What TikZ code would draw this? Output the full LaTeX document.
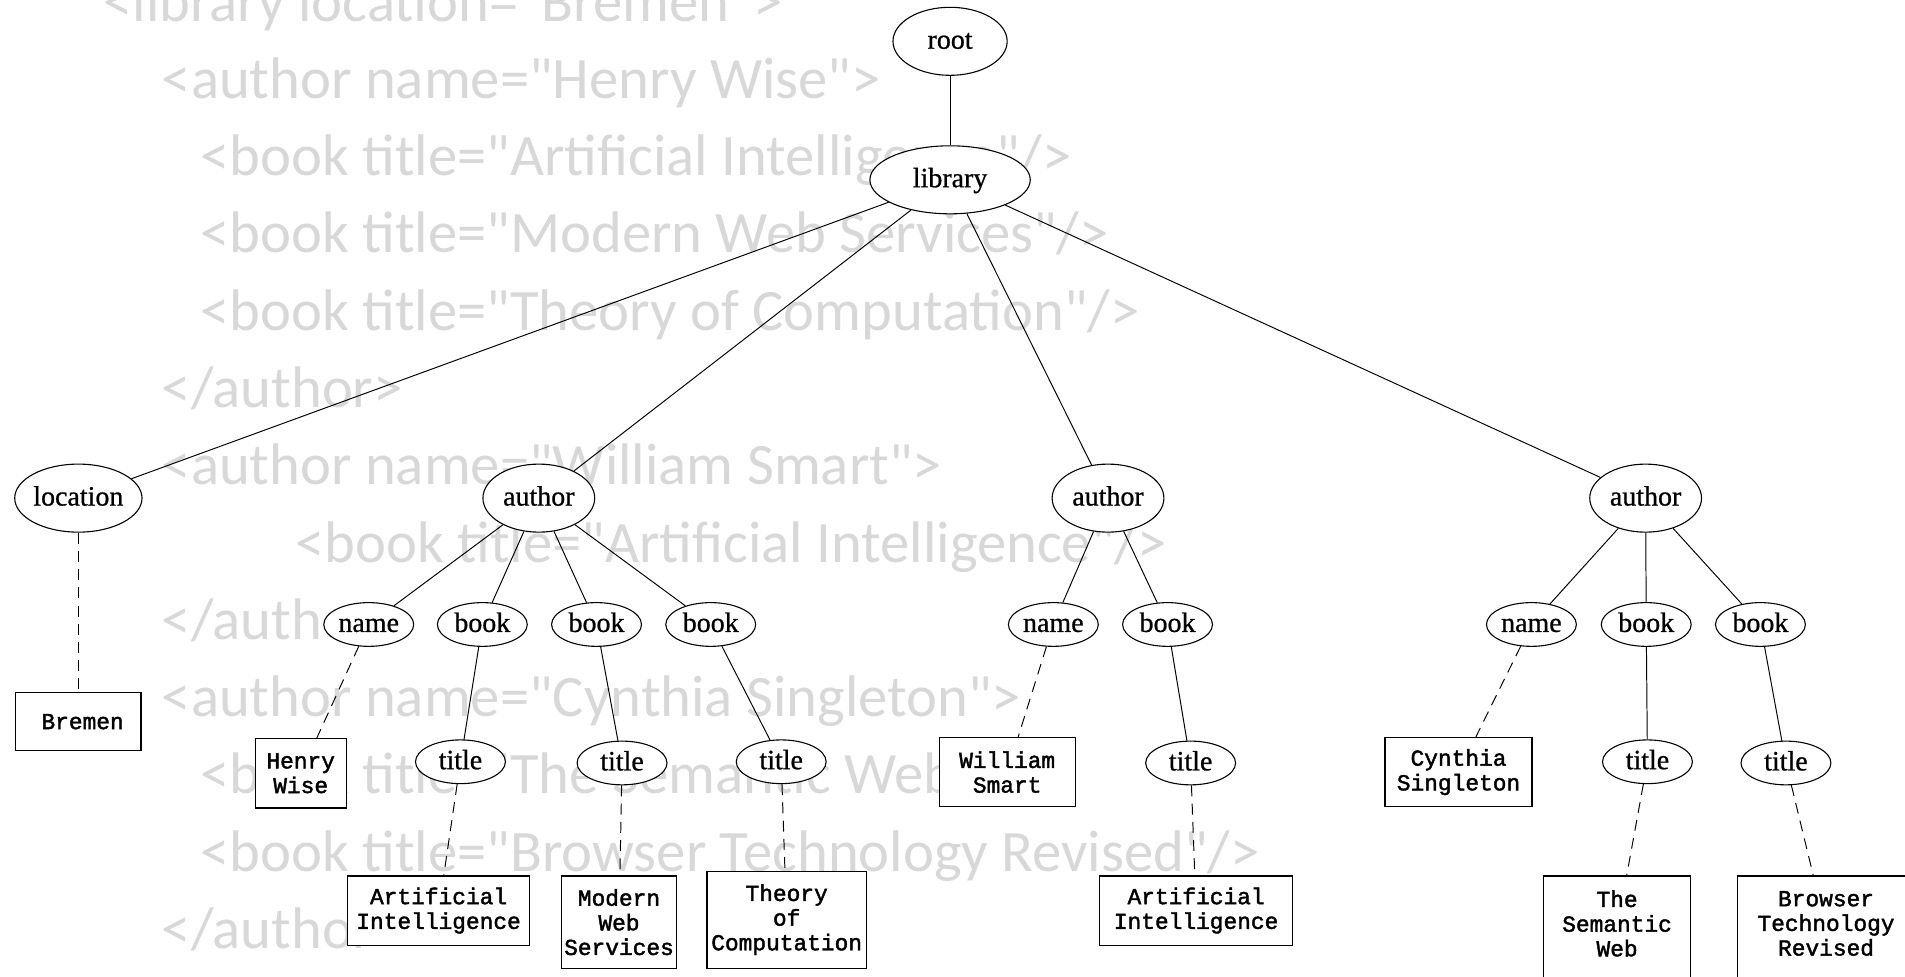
\documentclass[tikz,border=0pt]{standalone}
\usepackage{fontspec}
\newfontfamily\xmlfont{Carlito}
\newfontfamily\labfont[FakeBold=0.8]{Liberation Serif}
\newfontfamily\boxfont[FakeBold=1.8]{Liberation Mono}
\usetikzlibrary{shapes.geometric}
\definecolor{xmlgray}{RGB}{216,216,216}
\tikzset{
  xmltext/.style={anchor=base west, inner sep=0pt, text=xmlgray, font=\xmlfont\fontsize{48.3}{58}\selectfont},
  bigell/.style={ellipse, draw, fill=white, line width=0.9pt, inner sep=0pt, minimum height=56pt, text height=15.7pt, text depth=3.5pt, font=\labfont\fontsize{23}{27}\selectfont},
  smallell/.style={ellipse, draw, fill=white, line width=0.9pt, inner sep=0pt, minimum width=74pt, minimum height=36pt, text height=15.7pt, text depth=3.5pt, font=\labfont\fontsize{23}{27}\selectfont},
  leafbox/.style={rectangle, draw, fill=white, line width=1pt, inner sep=0pt, align=center, font=\boxfont\fontsize{18.8}{20.3}\selectfont},
  treeedge/.style={line width=0.8pt},
  textedge/.style={line width=0.8pt, dash pattern=on 9pt off 6pt},
}
\begin{document}
\begin{tikzpicture}[x=1pt, y=-1pt]
\useasboundingbox (0,0) rectangle (1568,804);
\clip (0,0) rectangle (1568,804);
\fill[white] (0,0) rectangle (1568,804);

% background XML text
\node[xmltext] (x1) at (85,17.4) {<library location="Bremen">};
\node[xmltext] (x2) at (133,81) {<author name="Henry Wise">};
\node[xmltext] (x3) at (165,144.6) {<book title="Artificial Intelligence"/>};
\node[xmltext] (x4) at (165,208.2) {<book title="Modern Web Services"/>};
\node[xmltext] (x5) at (165,271.8) {<book title="Theory of Computation"/>};
\node[xmltext] (x6) at (133,335.4) {</author>};
\node[xmltext] (x7) at (133,399) {<author name="William Smart">};
\node[xmltext] (x8) at (243,462.6) {<book title="Artificial Intelligence"/>};
\node[xmltext] (x9) at (133,526.2) {</author>};
\node[xmltext] (x10) at (133,589.8) {<author name="Cynthia Singleton">};
\node[xmltext] (x11) at (165,653.4) {<book title="The Semantic Web"/>};
\node[xmltext] (x12) at (165,717) {<book title="Browser Technology Revised"/>};
\node[xmltext] (x13) at (133,780.6) {</author>};

% tree nodes
\node[bigell, minimum width=94pt] (root) at (782,34) {root};
\node[bigell, minimum width=132pt] (library) at (782,148) {library};
\node[bigell, minimum width=103pt] (location) at (64.5,410) {location};
\node[bigell, minimum width=92pt] (authA) at (443.5,410) {author};
\node[bigell, minimum width=92pt] (authB) at (912,410) {author};
\node[bigell, minimum width=92pt] (authC) at (1354.5,410) {author};

\node[smallell] (nameA) at (303.5,514) {name};
\node[smallell] (bookA1) at (397,514) {book};
\node[smallell] (bookA2) at (491,514) {book};
\node[smallell] (bookA3) at (585,514) {book};
\node[smallell] (nameB) at (867,514) {name};
\node[smallell] (bookB1) at (961,514) {book};
\node[smallell] (nameC) at (1260.5,514) {name};
\node[smallell] (bookC1) at (1355,514) {book};
\node[smallell] (bookC2) at (1449,514) {book};

\node[smallell] (titleA1) at (379,627) {title};
\node[smallell] (titleA2) at (512,628) {title};
\node[smallell] (titleA3) at (643,627) {title};
\node[smallell] (titleB1) at (980,628) {title};
\node[smallell] (titleC1) at (1356,627) {title};
\node[smallell] (titleC2) at (1470,628) {title};

\node[leafbox, minimum width=103pt, minimum height=48pt] (bremen) at (64.5,594) {\hspace*{7pt}Bremen};
\node[leafbox, minimum width=75pt, minimum height=57pt] (henry) at (247.5,636.5) {Henry\\Wise};
\node[leafbox, minimum width=112pt, minimum height=57pt] (william) at (829,635.5) {William\\Smart};
\node[leafbox, minimum width=121pt, minimum height=57pt] (cynthia) at (1200.5,635.5) {Cynthia\\Singleton};
\node[leafbox, minimum width=150pt, minimum height=57pt] (aiA) at (361,749.5) {Artificial\\Intelligence};
\node[leafbox, minimum width=95pt, minimum height=76pt] (mws) at (509.5,759) {Modern\\Web\\Services};
\node[leafbox, minimum width=131pt, minimum height=80pt] (toc) at (647.5,757) {Theory\\of\\Computation};
\node[leafbox, minimum width=159pt, minimum height=57pt] (aiB) at (984.5,749.5) {Artificial\\Intelligence};
\node[leafbox, minimum width=121pt, minimum height=86pt, text depth=8pt] (semweb) at (1331,764) {The\\Semantic\\Web};
\node[leafbox, minimum width=146pt, minimum height=86pt, text depth=8pt] (browser) at (1503,764) {Browser\\Technology\\Revised};

% edges
\draw[treeedge] (root) -- (library);
\draw[treeedge] (library) -- (location);
\draw[treeedge] (library) -- (authA);
\draw[treeedge] (library) -- (authB);
\draw[treeedge] (library) -- (authC);
\draw[textedge] (location) -- (bremen);

\draw[treeedge] (authA) -- (nameA);
\draw[treeedge] (authA) -- (bookA1);
\draw[treeedge] (authA) -- (bookA2);
\draw[treeedge] (authA) -- (bookA3);
\draw[textedge] (nameA) -- (henry);
\draw[treeedge] (bookA1) -- (titleA1);
\draw[treeedge] (bookA2) -- (titleA2);
\draw[treeedge] (bookA3) -- (titleA3);
\draw[textedge] (titleA1) -- (aiA);
\draw[textedge] (titleA2) -- (mws);
\draw[textedge] (titleA3) -- (toc);

\draw[treeedge] (authB) -- (nameB);
\draw[treeedge] (authB) -- (bookB1);
\draw[textedge] (nameB) -- (william);
\draw[treeedge] (bookB1) -- (titleB1);
\draw[textedge] (titleB1) -- (aiB);

\draw[treeedge] (authC) -- (nameC);
\draw[treeedge] (authC) -- (bookC1);
\draw[treeedge] (authC) -- (bookC2);
\draw[textedge] (nameC) -- (cynthia);
\draw[treeedge] (bookC1) -- (titleC1);
\draw[treeedge] (bookC2) -- (titleC2);
\draw[textedge] (titleC1) -- (semweb);
\draw[textedge] (titleC2) -- (browser);
\end{tikzpicture}
\end{document}
